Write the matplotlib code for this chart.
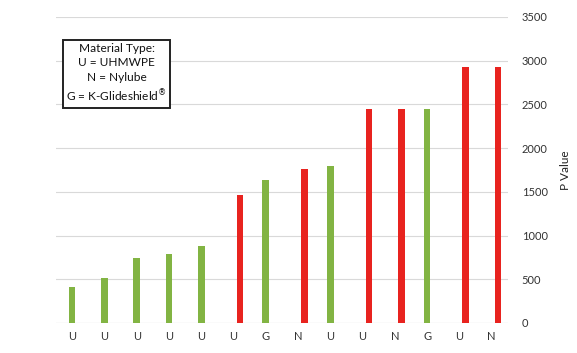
import numpy as np
import matplotlib
matplotlib.use('Agg')
import matplotlib.pyplot as plt

plt.rcParams['font.family'] = ['Lato', 'DejaVu Sans']

# Datos
materiales = ['U', 'U', 'U', 'U', 'U', 'U', 'G', 'N', 'U', 'U', 'N', 'G', 'U', 'N']
verde = [415, 520, 745, 790, 880, 0, 1640, 0, 1790, 0, 0, 2450, 0, 0]
rojo = [0, 0, 0, 0, 0, 1460, 0, 1760, 0, 2450, 2450, 0, 2930, 2930]
ticks_y = [0, 500, 1000, 1500, 2000, 2500, 3000, 3500]

fig = plt.figure(figsize=(5.77, 3.53), dpi=100)
ax = fig.add_axes([0.097, 0.085, 0.783, 0.867])

x = np.arange(len(materiales))
ancho = 0.21
ax.bar(x, verde, width=ancho, color='#82B443', zorder=3)
ax.bar(x + 0.2, rojo, width=ancho, color='#E8231F', zorder=3)

ax.set_xlim(-0.5, 13.5)
ax.set_ylim(0, 3500)
ax.set_xticks(x)
ax.set_xticklabels(materiales, fontsize=8, color='#333333')
ax.set_yticks(ticks_y)
ax.yaxis.tick_right()
ax.yaxis.set_label_position('right')
ax.tick_params(axis='y', labelsize=8, colors='#333333', length=0, pad=10)
ax.tick_params(axis='x', length=0, pad=6)
ax.set_ylabel('P Value', fontsize=8.5, color='#222222', labelpad=9)

ax.grid(axis='y', color='#d9d9d9', linewidth=0.8, zorder=0)
for s in ax.spines.values():
    s.set_visible(False)
ax.axhline(0, color='#d9d9d9', linewidth=0.8, zorder=1)

# Cuadro de leyenda
ax.text(0.134, 0.815, 'Material Type:\nU = UHMWPE\nN = Nylube\nG = K-Glideshield$^{®}$',
        transform=ax.transAxes, ha='center', va='center', fontsize=8.6,
        linespacing=1.38, color='#111111',
        bbox=dict(boxstyle='square,pad=0.3', facecolor='white', edgecolor='#222222', linewidth=1.4))

fig.savefig('out.png', dpi=100)
